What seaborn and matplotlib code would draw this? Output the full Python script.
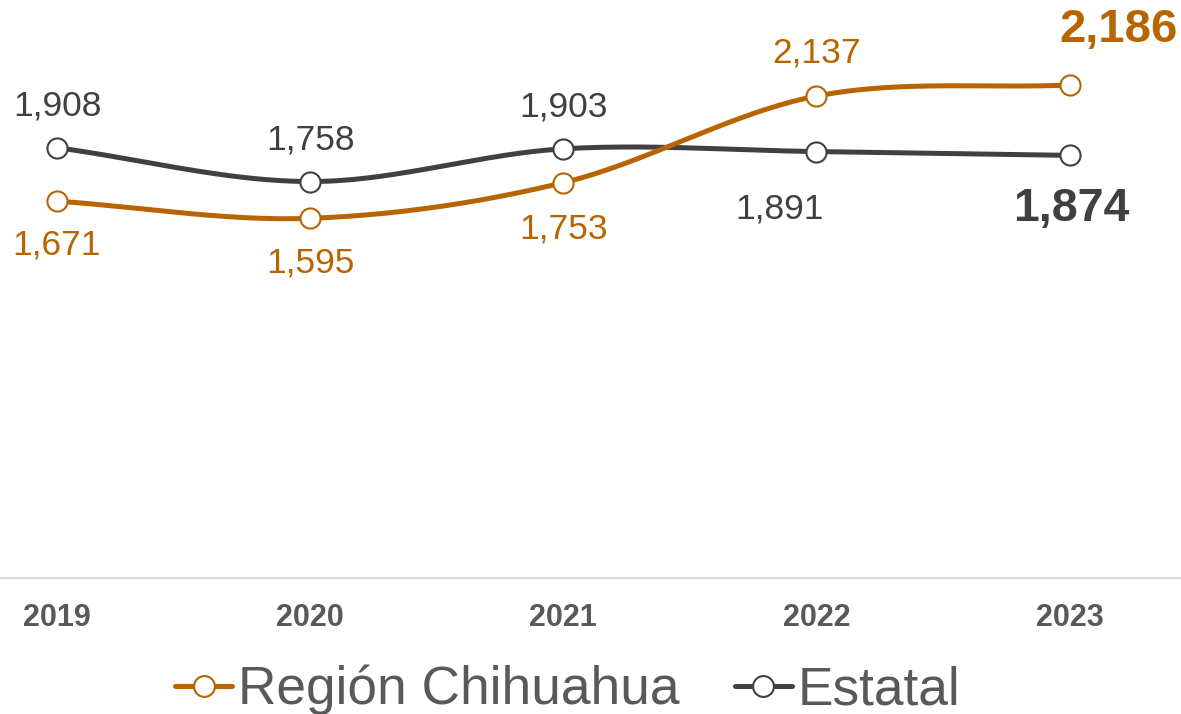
import numpy as np
import pandas as pd
import matplotlib
matplotlib.use("Agg")
import matplotlib.pyplot as plt
from matplotlib.lines import Line2D
import seaborn as sns

years = ["2019", "2020", "2021", "2022", "2023"]
region = [1671, 1595, 1753, 2137, 2186]
estatal = [1908, 1758, 1903, 1891, 1874]

ORANGE = "#B86400"
DARK = "#404040"
GRAY = "#595959"

sns.set_theme(style="white")
plt.rcParams["font.family"] = ["Liberation Sans", "DejaVu Sans"]

fig = plt.figure(figsize=(11.81, 7.14), dpi=100)
ax = fig.add_axes([0, 1 - 578 / 714, 1, 578 / 714])


def smooth(y, n=40):
    """Catmull-Rom curve through the points, like a smoothed line chart."""
    y = np.asarray(y, float)
    x = np.arange(len(y), dtype=float)
    px = np.concatenate([[2 * x[0] - x[1]], x, [2 * x[-1] - x[-2]]])
    py = np.concatenate([[2 * y[0] - y[1]], y, [2 * y[-1] - y[-2]]])
    xs, ys = [], []
    for i in range(1, len(px) - 2):
        t = np.linspace(0, 1, n, endpoint=False)
        for arr, out in ((px, xs), (py, ys)):
            p0, p1, p2, p3 = arr[i - 1:i + 3]
            m1 = (p2 - p0) / 2
            m2 = (p3 - p1) / 2
            h00 = 2 * t**3 - 3 * t**2 + 1
            h10 = t**3 - 2 * t**2 + t
            h01 = -2 * t**3 + 3 * t**2
            h11 = t**3 - t**2
            out.extend(h00 * p1 + h10 * m1 + h01 * p2 + h11 * m2)
    xs.append(x[-1])
    ys.append(y[-1])
    return np.array(xs), np.array(ys)


for vals, col in ((estatal, DARK), (region, ORANGE)):
    sx, sy = smooth(vals)
    sns.lineplot(x=sx, y=sy, ax=ax, color=col, linewidth=3.6, sort=False,
                 estimator=None)

pts = pd.DataFrame({"x": list(range(5)) * 2,
                    "y": estatal + region,
                    "s": ["Estatal"] * 5 + ["Región"] * 5})
for name, col in (("Estatal", DARK), ("Región", ORANGE)):
    d = pts[pts.s == name]
    sns.scatterplot(data=d, x="x", y="y", ax=ax, s=210, color="white",
                    edgecolor=col, linewidth=1.5, zorder=5, legend=False)

ax.set_xlim(-0.225, 4.44)
ax.set_ylim(0, 2563)
ax.set_xticks(range(5))
ax.set_xticklabels(years, fontsize=22, fontweight="bold", color=GRAY)
ax.tick_params(axis="x", length=0, pad=18)
ax.set_yticks([])
ax.set_xlabel("")
ax.set_ylabel("")
for side in ("top", "left", "right"):
    ax.spines[side].set_visible(False)
ax.spines["bottom"].set_color("#D9D9D9")
ax.spines["bottom"].set_linewidth(1.5)

# value labels (offsets in pixels)
est_off = [(0, 42), (0, 42), (0, 42), (-37, -57), (2, -54)]
reg_off = [(0, -44), (0, -45), (0, -46), (0, 43), (49, 55)]
for i, v in enumerate(estatal):
    bold = i == 4
    ax.annotate(f"{v:,}", (i, v), xytext=est_off[i], textcoords="offset pixels",
                ha="center", va="center", color=DARK,
                fontsize=33.5 if bold else 25.5,
                fontweight="bold" if bold else "normal")
for i, v in enumerate(region):
    bold = i == 4
    ax.annotate(f"{v:,}", (i, v), xytext=reg_off[i], textcoords="offset pixels",
                ha="center", va="center", color=ORANGE,
                fontsize=34 if bold else 25.5,
                fontweight="bold" if bold else "normal")

handles = [
    Line2D([], [], color=ORANGE, linewidth=3.6, marker="o", markersize=15,
           markerfacecolor="white", markeredgecolor=ORANGE, markeredgewidth=1.5),
    Line2D([], [], color=DARK, linewidth=3.6, marker="o", markersize=15,
           markerfacecolor="white", markeredgecolor=DARK, markeredgewidth=1.5),
]
leg = fig.legend(handles, ["Región Chihuahua", "Estatal"], loc="center",
                 bbox_to_anchor=(0.4805, 1 - 690 / 714), ncol=2, frameon=False,
                 fontsize=38.3, handlelength=1.08, handletextpad=0.1,
                 columnspacing=1.04, labelcolor=GRAY)

fig.savefig("out.png", dpi=100)
